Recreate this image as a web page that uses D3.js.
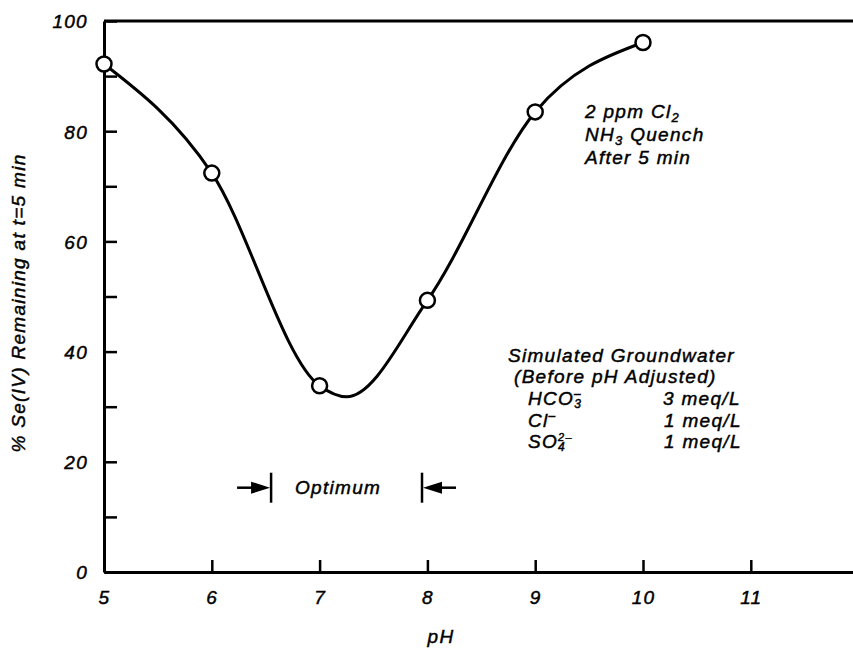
<!DOCTYPE html>
<html>
<head>
<meta charset="utf-8">
<script src="https://cdn.jsdelivr.net/npm/d3@7"></script>
<style>
body { margin: 0; background: #fff; }
text { font-family: "Liberation Sans", Arial, sans-serif; font-style: italic; fill: #000; stroke: #000; stroke-width: 0.45px; letter-spacing: 1.3px; }
</style>
</head>
<body>
<svg id="chart" width="853" height="653"></svg>
<script>
// measured points
var phVals = [5, 6, 7, 8, 9, 10];
var seRemaining = [92.2, 72.4, 33.8, 49.3, 83.5, 96.1];

// hand drawn fit curve: passes the points, dips to its minimum just past pH 7
var fitPh  = [5, 6, 7, 7.25, 8, 9, 10];
var fitVal = [92.2, 72.4, 33.8, 31.8, 49.3, 83.5, 96.1];

var xTickVals = [5, 6, 7, 8, 9, 10, 11];
var yTickVals = [0, 20, 40, 60, 80, 100];
var yMinorVals = [10, 30, 50, 70, 90];

var optimumRange = [6.55, 7.95];
var optimumLevel = 15.3;

var FONT_SZE = 19;
var LNE_COL = "#000";

var svg = d3.select("#chart");

var xScale = d3.scaleLinear()
    .domain([5, 12])
    .range([104, 858.6]);

var yScale = d3.scaleLinear()
    .domain([0, 100])
    .range([572, 21]);

// top frame line
svg.append("line")
    .attr("x1", xScale(5)).attr("x2", 853)
    .attr("y1", yScale(100)).attr("y2", yScale(100))
    .style("stroke", LNE_COL)
    .style("stroke-width", 3);

// y axis, ticks point inward
var yAxis = d3.axisLeft(yScale)
    .tickValues(yTickVals)
    .tickSizeInner(-13)
    .tickSizeOuter(0)
    .tickPadding(16);

var yMinor = d3.axisLeft(yScale)
    .tickValues(yMinorVals)
    .tickSizeInner(-13)
    .tickSizeOuter(0)
    .tickFormat("");

svg.append("g")
    .attr("transform", "translate(" + xScale(5) + ",0)")
    .call(yMinor)
    .call(g => g.select(".domain").remove())
    .selectAll("line").style("stroke-width", 2.5);

var yG = svg.append("g")
    .attr("transform", "translate(" + xScale(5) + ",0)")
    .call(yAxis);
yG.select(".domain").style("stroke-width", 3);
yG.selectAll("line").style("stroke-width", 2.5);
yG.selectAll("text")
    .attr("font-size", FONT_SZE)
    .attr("font-family", null)
    .attr("dy", "0.36em");

// x axis
var xAxis = d3.axisBottom(xScale)
    .tickValues(xTickVals)
    .tickFormat(d3.format("d"))
    .tickSizeInner(-12)
    .tickSizeOuter(0)
    .tickPadding(19);

var xG = svg.append("g")
    .attr("transform", "translate(0," + yScale(0) + ")")
    .call(xAxis);
xG.select(".domain").style("stroke-width", 3);
xG.selectAll("line").style("stroke-width", 2.5);
xG.selectAll("text")
    .attr("font-size", FONT_SZE)
    .attr("font-family", null);

// axis titles
svg.append("text")
    .attr("x", 441)
    .attr("y", 643)
    .attr("text-anchor", "middle")
    .style("font-size", FONT_SZE + "px")
    .text("pH");

svg.append("text")
    .attr("transform", "translate(25,303) rotate(-90)")
    .attr("text-anchor", "middle")
    .style("font-size", FONT_SZE + "px")
    .text("% Se(IV) Remaining at t=5 min");

// fitted curve and points
var fitPts = fitPh.map((d, i) => [d, fitVal[i]]);
var pts = phVals.map((d, i) => [d, seRemaining[i]]);

var line = d3.line()
    .x(d => xScale(d[0]))
    .y(d => yScale(d[1]))
    .curve(d3.curveMonotoneX);

svg.append("path")
    .datum(fitPts)
    .attr("d", line)
    .style("fill", "none")
    .style("stroke", LNE_COL)
    .style("stroke-width", 3);

svg.selectAll("circle")
    .data(pts)
    .enter()
    .append("circle")
    .attr("cx", d => xScale(d[0]))
    .attr("cy", d => yScale(d[1]))
    .attr("r", 7.5)
    .style("fill", "#fff")
    .style("stroke", LNE_COL)
    .style("stroke-width", 2.5);

// helper for multi-part text with sub/superscripts
function add_text(x, y, parts) {
    var t = svg.append("text")
        .attr("x", x)
        .attr("y", y)
        .style("font-size", FONT_SZE + "px");
    parts.forEach(function(p) {
        var s = t.append("tspan").text(p.t);
        if (p.size) s.style("font-size", p.size + "px");
        if (p.dx) s.attr("dx", p.dx);
        if (p.dy) s.attr("dy", p.dy);
    });
    return t;
}

add_text(585, 118, [{t: "2 ppm Cl"}, {t: "2", size: 13, dy: 4}]);
add_text(585, 141, [{t: "NH"}, {t: "3", size: 13, dy: 4}, {t: " Quench", dy: -4}]);
add_text(585, 164, [{t: "After 5 min"}]);

add_text(508, 362, [{t: "Simulated Groundwater"}]);
add_text(514, 383, [{t: "(Before pH Adjusted)"}]);

add_text(528, 405, [{t: "HCO"}, {t: "3", size: 12, dy: 3}, {t: "\u2013", size: 12, dx: -8, dy: -10}]);
add_text(528, 427, [{t: "Cl"}, {t: "\u2013", size: 12, dy: -7}]);
add_text(528, 448, [{t: "SO"}, {t: "4", size: 12, dy: 3}, {t: "2\u2013", size: 11, dx: -8, dy: -10}]);

add_text(663, 405, [{t: "3 meq/L"}]);
add_text(664, 427, [{t: "1 meq/L"}]);
add_text(664, 448, [{t: "1 meq/L"}]);

// optimum range markers
var oy = yScale(optimumLevel);
var ox1 = xScale(optimumRange[0]);
var ox2 = xScale(optimumRange[1]);

svg.append("text")
    .attr("x", 295)
    .attr("y", oy + 6)
    .style("font-size", FONT_SZE + "px")
    .text("Optimum");

[[ox1, -1], [ox2, 1]].forEach(function(m) {
    var x = m[0], s = m[1];
    svg.append("line")
        .attr("x1", x).attr("x2", x)
        .attr("y1", oy - 15).attr("y2", oy + 15)
        .style("stroke", LNE_COL)
        .style("stroke-width", 2.5);
    svg.append("line")
        .attr("x1", x + s * 14).attr("x2", x + s * 34)
        .attr("y1", oy).attr("y2", oy)
        .style("stroke", LNE_COL)
        .style("stroke-width", 2.5);
    svg.append("path")
        .attr("d", "M" + (x + s * 1) + "," + oy +
                   "L" + (x + s * 20) + "," + (oy - 6) +
                   "L" + (x + s * 20) + "," + (oy + 6) + "Z")
        .style("fill", LNE_COL);
});
</script>
</body>
</html>
